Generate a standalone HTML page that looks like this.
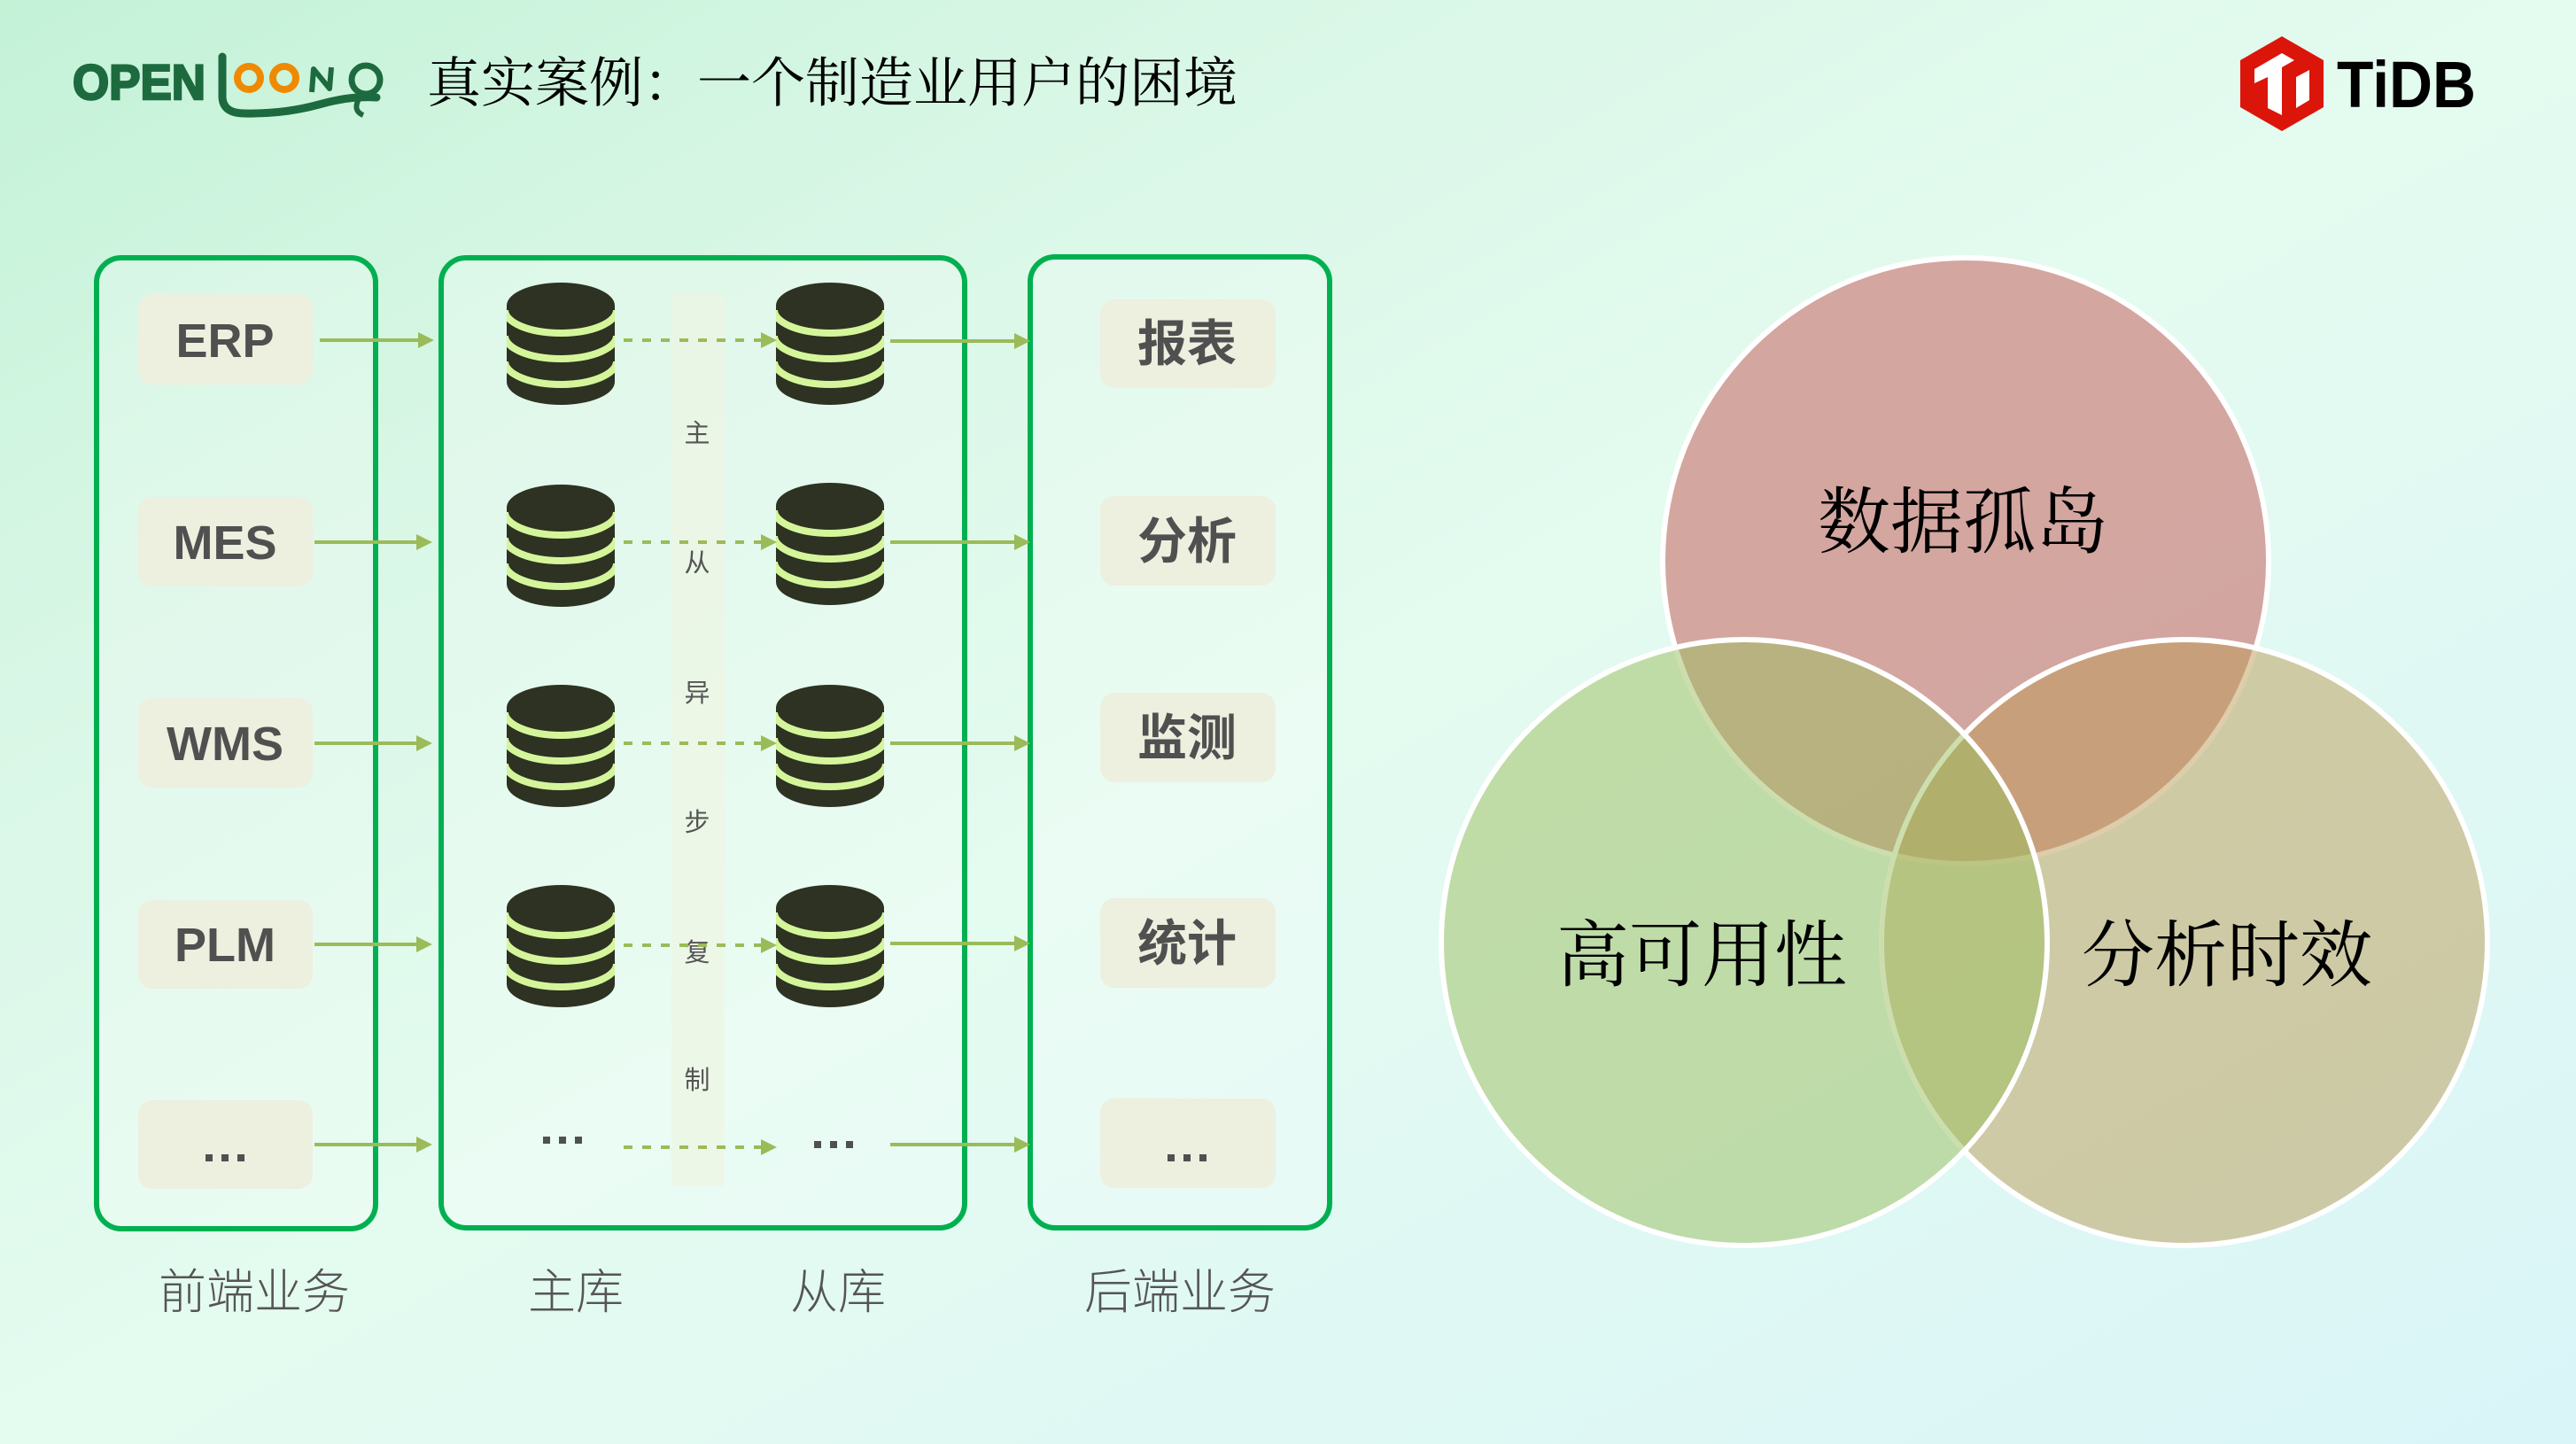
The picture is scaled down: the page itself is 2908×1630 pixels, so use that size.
<!DOCTYPE html>
<html><head><meta charset="utf-8"><style>
html,body{margin:0;padding:0;width:2908px;height:1630px;overflow:hidden;}
svg{display:block;}
.serif{font-family:"Liberation Serif","Noto Serif CJK SC",serif;}
.sans{font-family:"Liberation Sans","Noto Sans CJK SC",sans-serif;}
</style></head><body>
<svg width="2908" height="1630" viewBox="0 0 2908 1630" xmlns="http://www.w3.org/2000/svg">
<defs>
<linearGradient id="bg" x1="0" y1="0" x2="1" y2="1">
<stop offset="0" stop-color="#c3f2d7"/>
<stop offset="0.25" stop-color="#d9f7e6"/>
<stop offset="0.5" stop-color="#e4fbf0"/>
<stop offset="1" stop-color="#daf5f8"/>
</linearGradient>
<clipPath id="dbclip"><path d="M0,26 A61,26 0 0 1 122,26 L122,112 A61,26 0 0 1 0,112 Z"/></clipPath>
<g id="db">
<path d="M0,26 A61,26 0 0 1 122,26 L122,112 A61,26 0 0 1 0,112 Z" fill="#2d3222"/>
<g clip-path="url(#dbclip)" fill="none" stroke="#d5f59b" stroke-width="8">
<path d="M-2,31 A63,26 0 0 0 124,31"/>
<path d="M-2,60 A63,26 0 0 0 124,60"/>
<path d="M-2,89 A63,26 0 0 0 124,89"/>
</g>
</g>
<g id="ah"><path d="M-18,-9 L0,0 L-18,9 Z" fill="#9bbb59"/></g>
</defs>

<rect x="0" y="0" width="2908" height="1630" fill="url(#bg)"/>

<!-- OpenLoong logo -->
<g>
<text x="82" y="112" class="sans" font-size="56" font-weight="bold" fill="#1d6a3e" stroke="#1d6a3e" stroke-width="2.5" textLength="150" lengthAdjust="spacingAndGlyphs">OPEN</text>
<path d="M251,64 L251,110 Q252,128 276,128 Q320,129 360,118 Q395,108 425,110" fill="none" stroke="#1d6a3e" stroke-width="9" stroke-linecap="round"/>
<circle cx="281" cy="88" r="13" fill="none" stroke="#ef8a00" stroke-width="8"/>
<circle cx="321" cy="88" r="13" fill="none" stroke="#ef8a00" stroke-width="8"/>
<path d="M352,104 L354,78 L372,100 L374,76" fill="none" stroke="#1d6a3e" stroke-width="6" stroke-linejoin="round"/>
<circle cx="413" cy="90" r="16" fill="none" stroke="#1d6a3e" stroke-width="7"/>
<path d="M405,112 Q398,125 410,130" fill="none" stroke="#1d6a3e" stroke-width="6"/>
</g>

<!-- Title -->
<text x="482" y="95" class="serif" font-size="61" fill="#000" dominant-baseline="central">真实案例：一个制造业用户的困境</text>

<!-- TiDB logo -->
<polygon points="2576,41 2623,68 2623,121 2576,148 2529,121 2529,68" fill="#dc150b"/>
<polygon points="2545,78 2576,60 2590,68 2576,76 2576,130 2560,122 2560,87 2545,94" fill="#fff"/>
<polygon points="2592,87 2607,79 2607,113 2592,122" fill="#fff"/>
<text x="2638" y="121" class="sans" font-size="74" font-weight="bold" fill="#000" textLength="157" lengthAdjust="spacingAndGlyphs">TiDB</text>

<!-- Group boxes -->
<rect x="109" y="291" width="315" height="1096" rx="28" fill="rgba(255,255,255,0.22)" stroke="#00b050" stroke-width="6"/>
<rect x="498" y="291" width="591" height="1095" rx="28" fill="rgba(255,255,255,0.22)" stroke="#00b050" stroke-width="6"/>
<rect x="1163" y="290" width="338" height="1096" rx="28" fill="rgba(255,255,255,0.22)" stroke="#00b050" stroke-width="6"/>

<!-- replication band -->
<rect x="758" y="332" width="60" height="1007" fill="#eef5e2" opacity="0.7"/>
<g class="sans" font-size="29" fill="#555" text-anchor="middle" dominant-baseline="central">
<text x="787" y="490">主</text>
<text x="787" y="636">从</text>
<text x="787" y="783">异</text>
<text x="787" y="929">步</text>
<text x="787" y="1076">复</text>
<text x="787" y="1220">制</text>
</g>

<!-- left label boxes -->
<g fill="#edefdf">
<rect x="156" y="332" width="197" height="102" rx="16"/>
<rect x="156" y="561" width="197" height="101" rx="16"/>
<rect x="156" y="788" width="197" height="101" rx="16"/>
<rect x="156" y="1016" width="197" height="100" rx="16"/>
<rect x="156" y="1242" width="197" height="100" rx="16"/>
</g>
<g class="sans" font-size="54" font-weight="bold" fill="#505050" text-anchor="middle" dominant-baseline="central">
<text x="254" y="385">ERP</text>
<text x="254" y="613">MES</text>
<text x="254" y="840">WMS</text>
<text x="254" y="1067">PLM</text>
</g>
<g fill="#505050">
<rect x="232" y="1303" width="8" height="8"/><rect x="250" y="1303" width="8" height="8"/><rect x="268" y="1303" width="8" height="8"/>
</g>

<!-- right label boxes -->
<g fill="#edefdf">
<rect x="1242" y="338" width="198" height="100" rx="16"/>
<rect x="1242" y="560" width="198" height="101" rx="16"/>
<rect x="1242" y="782" width="198" height="101" rx="16"/>
<rect x="1242" y="1014" width="198" height="101" rx="16"/>
<rect x="1242" y="1240" width="198" height="101" rx="16"/>
</g>
<g class="sans" font-size="56" font-weight="bold" fill="#505050" text-anchor="middle" dominant-baseline="central">
<text x="1340" y="388">报表</text>
<text x="1340" y="611">分析</text>
<text x="1340" y="833">监测</text>
<text x="1340" y="1065">统计</text>
</g>
<g fill="#505050">
<rect x="1318" y="1303" width="8" height="8"/><rect x="1336" y="1303" width="8" height="8"/><rect x="1354" y="1303" width="8" height="8"/>
</g>

<!-- DB icons -->
<use href="#db" x="572" y="319"/>
<use href="#db" x="876" y="319"/>
<use href="#db" x="572" y="547"/>
<use href="#db" x="876" y="545"/>
<use href="#db" x="572" y="773"/>
<use href="#db" x="876" y="773"/>
<use href="#db" x="572" y="999"/>
<use href="#db" x="876" y="999"/>
<g fill="#505050">
<rect x="613" y="1283" width="8" height="8"/><rect x="631" y="1283" width="8" height="8"/><rect x="649" y="1283" width="8" height="8"/>
<rect x="919" y="1288" width="8" height="8"/><rect x="937" y="1288" width="8" height="8"/><rect x="955" y="1288" width="8" height="8"/>
</g>

<!-- solid arrows left->master -->
<g stroke="#9bbb59" stroke-width="4" fill="none">
<line x1="361" y1="384" x2="474" y2="384"/>
<line x1="355" y1="612" x2="472" y2="612"/>
<line x1="355" y1="839" x2="472" y2="839"/>
<line x1="355" y1="1066" x2="472" y2="1066"/>
<line x1="355" y1="1292" x2="472" y2="1292"/>
</g>
<use href="#ah" x="490" y="384"/>
<use href="#ah" x="488" y="612"/>
<use href="#ah" x="488" y="839"/>
<use href="#ah" x="488" y="1066"/>
<use href="#ah" x="488" y="1292"/>

<!-- dashed arrows master->slave -->
<g stroke="#9bbb59" stroke-width="4" fill="none" stroke-dasharray="10 11">
<line x1="704" y1="384" x2="860" y2="384"/>
<line x1="704" y1="612" x2="860" y2="612"/>
<line x1="704" y1="839" x2="860" y2="839"/>
<line x1="704" y1="1067" x2="860" y2="1067"/>
<line x1="704" y1="1295" x2="860" y2="1295"/>
</g>
<use href="#ah" x="877" y="384"/>
<use href="#ah" x="877" y="612"/>
<use href="#ah" x="877" y="839"/>
<use href="#ah" x="877" y="1067"/>
<use href="#ah" x="877" y="1295"/>

<!-- solid arrows slave->right -->
<g stroke="#9bbb59" stroke-width="4" fill="none">
<line x1="1005" y1="385" x2="1146" y2="385"/>
<line x1="1005" y1="612" x2="1146" y2="612"/>
<line x1="1005" y1="839" x2="1146" y2="839"/>
<line x1="1005" y1="1065" x2="1146" y2="1065"/>
<line x1="1005" y1="1292" x2="1146" y2="1292"/>
</g>
<use href="#ah" x="1163" y="385"/>
<use href="#ah" x="1163" y="612"/>
<use href="#ah" x="1163" y="839"/>
<use href="#ah" x="1163" y="1065"/>
<use href="#ah" x="1163" y="1292"/>

<!-- bottom labels -->
<g class="sans" font-size="54" fill="#555" text-anchor="middle" dominant-baseline="central" font-weight="300">
<text x="287" y="1459">前端业务</text>
<text x="650" y="1459">主库</text>
<text x="946" y="1459">从库</text>
<text x="1332" y="1459">后端业务</text>
</g>

<!-- Venn -->
<circle cx="2219" cy="633" r="342" fill="#c4514f" fill-opacity="0.5" stroke="#fff" stroke-width="6"/>
<circle cx="2466" cy="1064" r="342" fill="#bc9b55" fill-opacity="0.5" stroke="#fff" stroke-width="6"/>
<circle cx="1969" cy="1064" r="342" fill="#9cbd5d" fill-opacity="0.5" stroke="#fff" stroke-width="6"/>
<g class="serif" font-size="82" fill="#000" text-anchor="middle" dominant-baseline="central">
<text x="2216" y="590">数据孤岛</text>
<text x="1921" y="1079">高可用性</text>
<text x="2514" y="1079">分析时效</text>
</g>
</svg>
</body></html>
